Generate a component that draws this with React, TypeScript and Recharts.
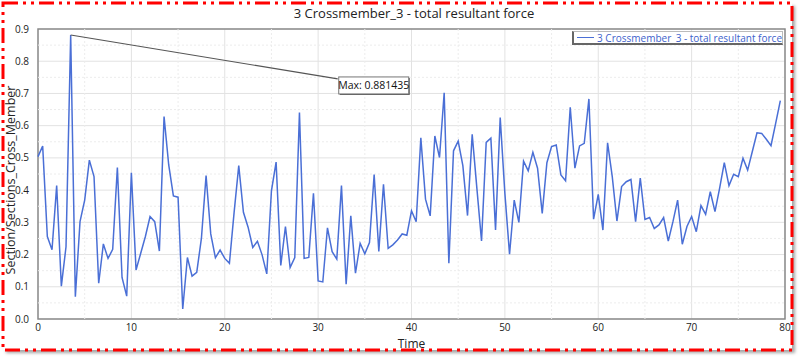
import React from "react"
import {
  LineChart,
  Line,
  XAxis,
  YAxis,
  CartesianGrid,
  ReferenceLine,
  ReferenceArea,
  ReferenceDot,
} from "recharts"

// sampled every 0.5 s
const timeStep = 0.5
const force = [
  0.504, 0.537, 0.256, 0.215, 0.414, 0.102, 0.224, 0.881435, 0.069, 0.302,
  0.369, 0.493, 0.442, 0.111, 0.233, 0.188, 0.216, 0.47, 0.129, 0.071,
  0.454, 0.152, 0.204, 0.256, 0.318, 0.302, 0.211, 0.628, 0.478, 0.382,
  0.378, 0.031, 0.191, 0.133, 0.145, 0.25, 0.445, 0.264, 0.19, 0.214,
  0.188, 0.173, 0.33, 0.476, 0.331, 0.285, 0.222, 0.241, 0.199, 0.14,
  0.398, 0.487, 0.166, 0.287, 0.16, 0.191, 0.641, 0.188, 0.191, 0.39,
  0.118, 0.115, 0.283, 0.209, 0.186, 0.414, 0.108, 0.32, 0.142, 0.235,
  0.202, 0.237, 0.448, 0.21, 0.418, 0.219, 0.23, 0.245, 0.264, 0.26,
  0.336, 0.302, 0.562, 0.372, 0.32, 0.568, 0.501, 0.702, 0.173, 0.522,
  0.552, 0.476, 0.321, 0.573, 0.406, 0.242, 0.548, 0.561, 0.276, 0.625,
  0.39, 0.201, 0.369, 0.3, 0.49, 0.46, 0.517, 0.468, 0.328, 0.485,
  0.535, 0.54, 0.447, 0.429, 0.657, 0.468, 0.537, 0.545, 0.683, 0.31,
  0.387, 0.276, 0.547, 0.442, 0.304, 0.411, 0.426, 0.433, 0.302, 0.437,
  0.309, 0.315, 0.281, 0.292, 0.315, 0.242, 0.302, 0.369, 0.232, 0.287,
  0.318, 0.271, 0.352, 0.325, 0.395, 0.333, 0.406, 0.485, 0.414, 0.449,
  0.442, 0.499, 0.462, 0.52, 0.578, 0.576, 0.558, 0.538, 0.607, 0.678,
]

const xTicks = [0, 10, 20, 30, 40, 50, 60, 70, 80]
const xMinorTicks = [5, 15, 25, 35, 45, 55, 65, 75]
const yTicks = [0, 0.1, 0.2, 0.3, 0.4, 0.5, 0.6, 0.7, 0.8, 0.9]
const yMinorTicks = [0.05, 0.15, 0.25, 0.35, 0.45, 0.55, 0.65, 0.75, 0.85]

const title = "3 Crossmember_3 - total resultant force"
const seriesName = "3 Crossmember_3 - total resultant force"
const xTitle = "Time"
const yTitle = "Section/Sections_Cross_Member"
// where the max callout box sits (data units)
const calloutAt = { x: 32.1, y: 0.745 }

const lineColor = "#4a6fd6"
const font = "'Open Sans', 'Noto Sans', sans-serif"

const data = force.map((v, i) => ({ time: i * timeStep, force: v }))
const peak = data.reduce((a, b) => (b.force > a.force ? b : a))

function MaxBox(props: any) {
  const { cx, cy } = props
  if (cx == null || cy == null) return null
  const x = cx + 1
  const y = cy - 2
  return (
    <g>
      <rect x={x + 1} y={y + 1} width={70} height={17} fill="#555" />
      <rect x={x} y={y} width={70} height={17} fill="#fff" stroke="#777" strokeWidth={1} />
      <text x={x + 35} y={y + 12.5} textAnchor="middle" fontSize={10.5} fill="#111" fontFamily={font}>
        Max: {String(peak.force)}
      </text>
    </g>
  )
}

function LegendBox() {
  return (
    <div
      style={{
        position: "absolute",
        top: 31,
        left: 572,
        width: 211,
        boxSizing: "border-box",
        background: "#fff",
        borderTop: "1px solid #bbb",
        borderRight: "1px solid #bbb",
        borderLeft: "2px solid #666",
        borderBottom: "2px solid #666",
        height: 14,
        display: "flex",
        alignItems: "center",
        paddingLeft: 3,
        fontFamily: font,
        fontSize: 10,
        color: "#3d62cc",
        whiteSpace: "nowrap",
        overflow: "hidden",
      }}
    >
      <span style={{ display: "inline-block", width: 23, borderTop: `1.5px solid ${lineColor}`, marginRight: 3 }} />
      {seriesName}
    </div>
  )
}

function YTitle(props: any) {
  const { viewBox } = props
  const cy = viewBox.y + viewBox.height / 2 + 6
  return (
    <text
      x={10}
      y={cy}
      transform={`rotate(-90, 10, ${cy})`}
      textAnchor="middle"
      dominantBaseline="central"
      fontSize={12.5}
      fill="#222"
      fontFamily={font}
    >
      {yTitle}
    </text>
  )
}

export default function App() {
  return (
    <div style={{ position: "absolute", left: 0, top: 0, width: 800, height: 357, background: "#fff", fontFamily: font }}>
      <div
        style={{
          position: "absolute",
          left: 3,
          top: 3,
          width: 789,
          height: 347,
          background: "#fff",
          boxShadow: "3px 3px 3px rgba(0,0,0,0.35)",
        }}
      />
      <div
        style={{
          position: "absolute",
          top: 4,
          left: 0,
          width: 800,
          paddingLeft: 28,
          boxSizing: "border-box",
          textAlign: "center",
          fontSize: 13,
          color: "#222",
        }}
      >
        {title}
      </div>
      <div style={{ position: "absolute", left: 0, top: 0 }}>
        <LineChart width={800} height={357} data={data} margin={{ top: 29, right: 15, bottom: 0, left: 0 }}>
          <CartesianGrid stroke="#e2e2e2" strokeWidth={1} />
          {xMinorTicks.map((t) => (
            <ReferenceLine key={"xm" + t} x={t} stroke="#ececec" strokeDasharray="2 2" />
          ))}
          {yMinorTicks.map((t) => (
            <ReferenceLine key={"ym" + t} y={t} stroke="#ececec" strokeDasharray="2 2" />
          ))}
          <XAxis
            dataKey="time"
            type="number"
            domain={[0, 80]}
            ticks={xTicks}
            height={38}
            tickLine={false}
            axisLine={false}
            tick={{ fontSize: 10, fill: "#222", fontFamily: font, dy: -1 }}
            tickMargin={0}
            label={{ value: xTitle, position: "insideBottom", offset: 9, fontSize: 12, fill: "#222", fontFamily: font }}
          />
          <YAxis
            type="number"
            domain={[0, 0.9]}
            ticks={yTicks}
            width={38}
            tickLine={false}
            axisLine={false}
            tick={{ fontSize: 10, fill: "#222", fontFamily: font }}
            tickMargin={3}
            tickFormatter={(v: number) => v.toFixed(1)}
            label={<YTitle />}
          />
          <ReferenceArea x1={0} x2={80} y1={0} y2={0.9} fill="none" stroke="#8a8a8a" strokeWidth={1.5} />
          <Line
            type="linear"
            dataKey="force"
            name={seriesName}
            stroke={lineColor}
            strokeWidth={1.5}
            dot={false}
            isAnimationActive={false}
          />
          <ReferenceLine
            segment={[
              { x: peak.time, y: peak.force },
              { x: calloutAt.x, y: calloutAt.y },
            ]}
            stroke="#555"
            strokeWidth={1.2}
          />
          <ReferenceDot x={calloutAt.x} y={calloutAt.y} r={0} shape={<MaxBox />} />
        </LineChart>
      </div>
      <LegendBox />
      <svg width={800} height={357} style={{ position: "absolute", left: 0, top: 0, pointerEvents: "none" }}>
        <rect
          x={3}
          y={3}
          width={789}
          height={347}
          fill="none"
          stroke="#ff0000"
          strokeWidth={3}
          strokeDasharray="15 5 3 5 3 5"
        />
      </svg>
    </div>
  )
}
